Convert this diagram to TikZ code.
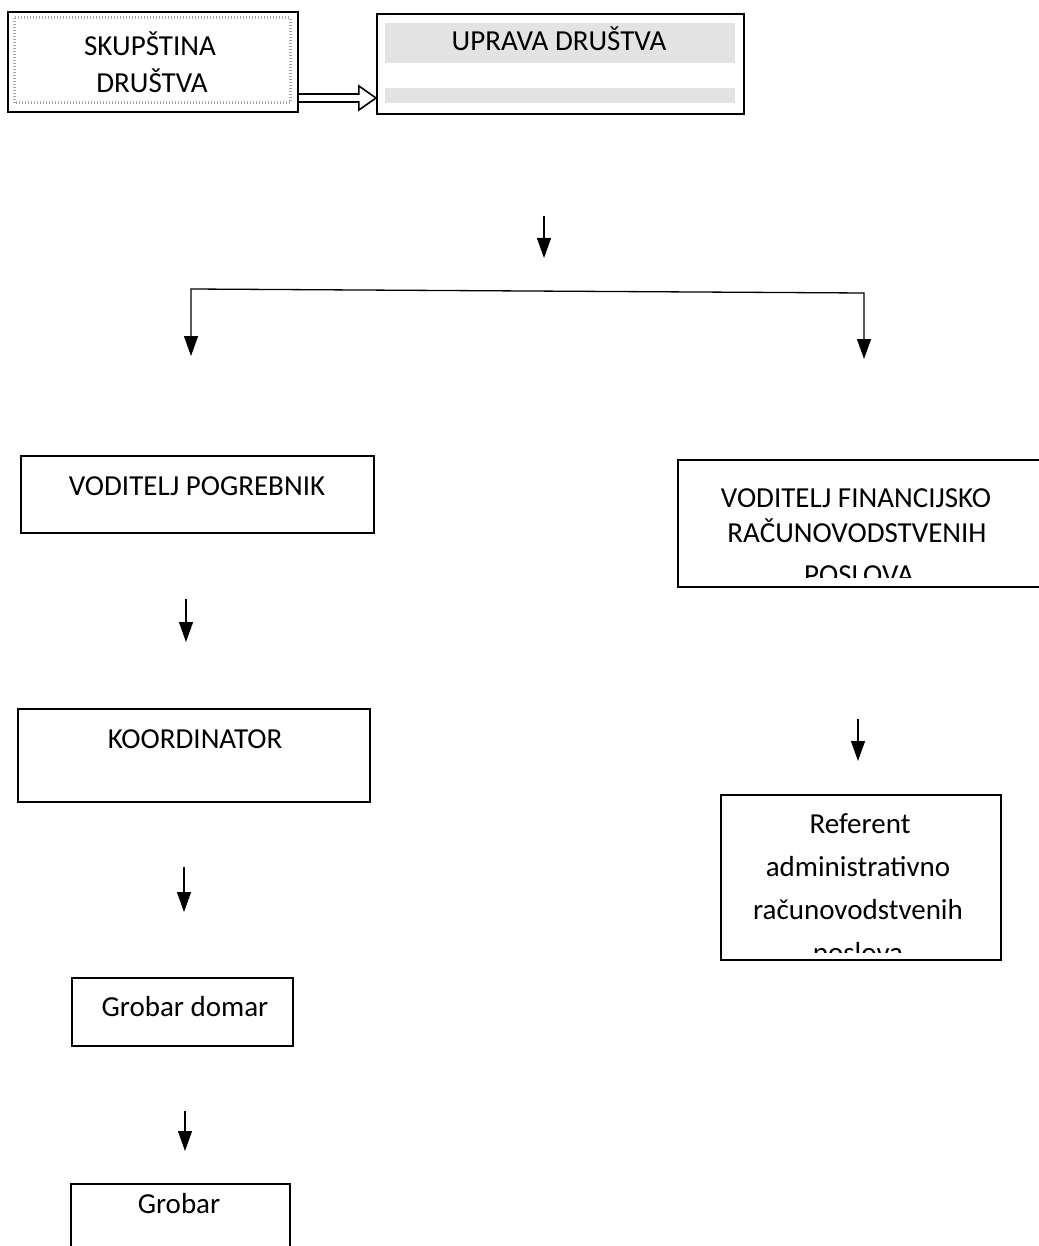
\documentclass[tikz,border=0pt]{standalone}
\usepackage{fontspec}
\setmainfont{Carlito}
\usetikzlibrary{arrows.meta,calc}
\begin{document}
\begin{tikzpicture}[x=1pt,y=-1pt,
  box/.style={draw, line width=1.9pt, inner sep=0pt, anchor=north west},
  lbl/.style={font=\fontsize{29}{35}\selectfont, anchor=base, inner sep=0pt},
  arr/.style={line width=1.3pt, -{Triangle[length=20pt,width=14pt]}},
  speck/.style={fill=black!11, draw=none},
  frame/.style={draw=black!35, line width=3pt, dash pattern=on 1pt off 2pt}
]
\useasboundingbox (0,0) rectangle (1038,1246);

% ---------- top row ----------
\node[box, minimum width=290pt, minimum height=100pt] (skup) at (7,11) {};
\draw[frame] (14,18) rectangle (290,103);
\node[lbl] (skupA) at (150,56) {SKUPŠTINA};
\node[lbl] (skupB) at (152,93) {DRUŠTVA};

\fill[speck] (385,23) rectangle (735,63);
\fill[speck] (385,88) rectangle (735,103);
\node[box, minimum width=367pt, minimum height=100pt] (uprava) at (376,13) {};
\node[lbl] (upravaT) at (559,51) {UPRAVA DRUŠTVA};

% hollow double arrow
\coordinate (hs) at (skup.east |- 0,98);
\coordinate (he) at (uprava.west |- 0,98);
\draw[line width=1.6pt, line join=miter]
  ($(hs)+(0,-4)$) -- ++(60,0) -- ++(0,-8) -- (he) -- ($(hs)+(60,12)$) -- ++(0,-8) -- ($(hs)+(0,4)$);

% ---------- connectors from management ----------
\coordinate (a1s) at (544,216);
\coordinate (a1e) at (544,258);
\draw[arr] (a1s) -- (a1e);

\coordinate (bl) at (191,289);
\coordinate (br) at (864,293);
\coordinate (ble) at (191,356);
\coordinate (bre) at (864,359);
\draw[line width=1.3pt, {Triangle[length=20pt,width=14pt]}-{Triangle[length=20pt,width=14pt]}]
  (ble) -- (bl) -- (br) -- (bre);

% ---------- left column ----------
\node[box, minimum width=353pt, minimum height=77pt] (pogreb) at (20,455) {};
\node[lbl] (pogrebT) at (197,495) {VODITELJ POGREBNIK};

\coordinate (a2s) at (186,599);
\coordinate (a2e) at (186,642);
\draw[arr] (a2s) -- (a2e);

\node[box, minimum width=352pt, minimum height=93pt] (koord) at (17,708) {};
\node[lbl] (koordT) at (195,748) {KOORDINATOR};

\coordinate (a3s) at (184,867);
\coordinate (a3e) at (184,912);
\draw[arr] (a3s) -- (a3e);

\node[box, minimum width=221pt, minimum height=68pt] (domar) at (71,977) {};
\node[lbl] (domarT) at (185,1016) {Grobar domar};

\coordinate (a4s) at (185,1111);
\coordinate (a4e) at (185,1151);
\draw[arr] (a4s) -- (a4e);

\node[box, minimum width=219pt, minimum height=90pt] (grobar) at (70,1183) {};
\node[lbl] (grobarT) at (179,1213) {Grobar};

% ---------- right column ----------
\node[box, minimum width=380pt, minimum height=127pt] (fin) at (677,459) {};
\node[lbl] (finA) at (856,507) {VODITELJ FINANCIJSKO};
\node[lbl] (finB) at (857,542) {RAČUNOVODSTVENIH};
\begin{scope}
  \clip (677,459) rectangle (1038,577);
  \node[lbl] (finC) at (859,584) {POSLOVA};
\end{scope}

\coordinate (a5s) at (858,719);
\coordinate (a5e) at (858,761);
\draw[arr] (a5s) -- (a5e);

\node[box, minimum width=280pt, minimum height=165pt] (ref) at (720,794) {};
\node[lbl] (refA) at (860,833) {Referent};
\node[lbl] (refB) at (858,876) {administrativno};
\node[lbl] (refC) at (858,919) {računovodstvenih};
\begin{scope}
  \clip (720,794) rectangle (1000,952);
  \node[lbl] (refD) at (858,962) {poslova};
\end{scope}
\end{tikzpicture}
\end{document}
